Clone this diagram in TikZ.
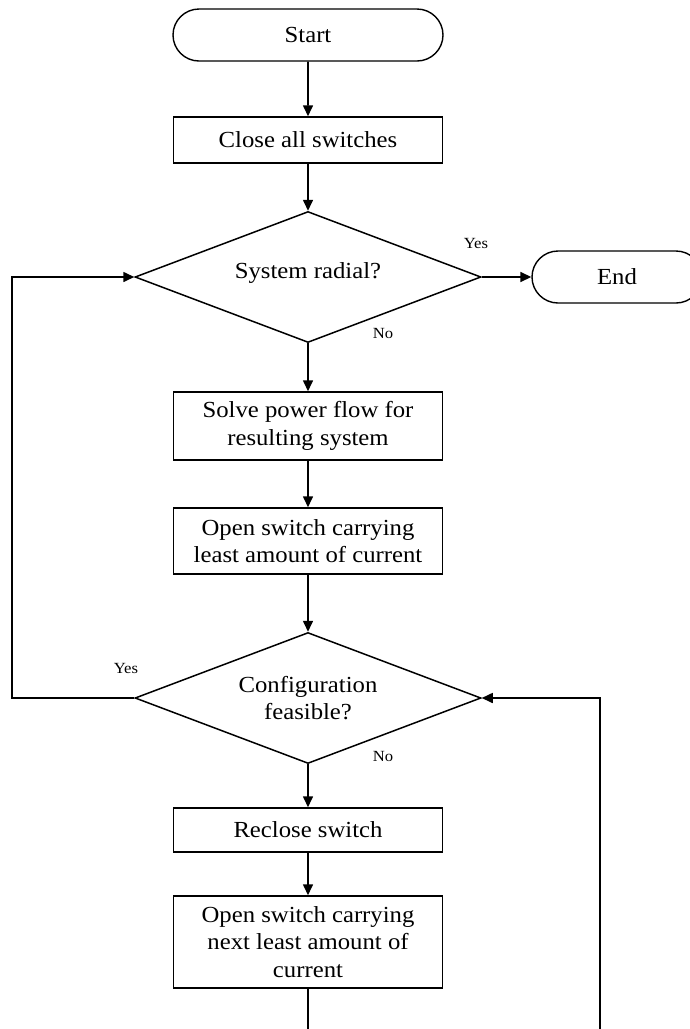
\documentclass[tikz,border=0pt]{standalone}
\usepackage{fontspec}
\setmainfont[FakeStretch=1.075]{Liberation Serif}
\usetikzlibrary{shapes.geometric,shapes.misc,arrows.meta}
\begin{document}
\begin{tikzpicture}[x=1pt,y=-1pt,
  every node/.style={font=\fontsize{23}{27.5}\selectfont, align=center},
  terminal/.style={draw, line width=1.4pt, rounded rectangle, rounded rectangle arc length=180,
    minimum height=52pt, inner sep=0pt},
  process/.style={draw, line width=1.5pt, rectangle, minimum width=269pt, inner sep=0pt},
  decision/.style={draw, line width=1.5pt, diamond, aspect=2.64, minimum width=346pt,
    minimum height=131pt, inner sep=0pt},
  flow/.style={line width=1.6pt, -{Triangle[length=11pt,width=10pt]}},
  plain/.style={line width=1.6pt},
  tag/.style={font=\fontsize{15.5}{17}\selectfont}]
\useasboundingbox (0,0) rectangle (690,1029);
\clip (0,0) rectangle (690,1029);

% nodes
\node[terminal, minimum width=270pt] (start) at (308,35) {Start};
\node[process, minimum height=46pt] (close) at (308,140) {Close all switches};
\node[decision] (radial) at (308,277) {\raisebox{13pt}{System radial?}};
\node[terminal, minimum width=170pt] (end) at (617,277) {End};
\node[process, minimum height=68pt] (solve) at (308,426) {Solve power flow for\\resulting system};
\node[process, minimum height=66pt] (open) at (308,541) {Open switch carrying\\least amount of current};
\node[decision] (feas) at (308,698) {Configuration\\feasible?};
\node[process, minimum height=44pt] (reclose) at (308,830) {Reclose switch};
\node[process, minimum height=92pt] (next) at (308,942) {Open switch carrying\\next least amount of\\current};

% branch labels
\node[tag] (yes1) at (476,243) {Yes};
\node[tag] (no1) at (383,333) {No};
\node[tag] (yes2) at (126,668) {Yes};
\node[tag] (no2) at (383,756) {No};

% loose ends running past the lower edge
\coordinate (down) at (308,1040);
\coordinate (up) at (600,1040);

% connectors
\draw[flow] (start) -- (close);
\draw[flow] (close) -- (radial);
\draw[flow] (radial.east) -- (end.west);
\draw[flow] (radial.south) -- (solve);
\draw[flow] (solve) -- (open);
\draw[flow] (open) -- (feas);
\draw[flow] (feas.south) -- (reclose);
\draw[flow] (reclose) -- (next);
\draw[flow] (feas.west) -- (12,698) -- (12,277) -- (radial.west);
\draw[plain] (next.south) -- (down);
\draw[flow] (up) -- (600,698) -- (feas.east);
\end{tikzpicture}
\end{document}
